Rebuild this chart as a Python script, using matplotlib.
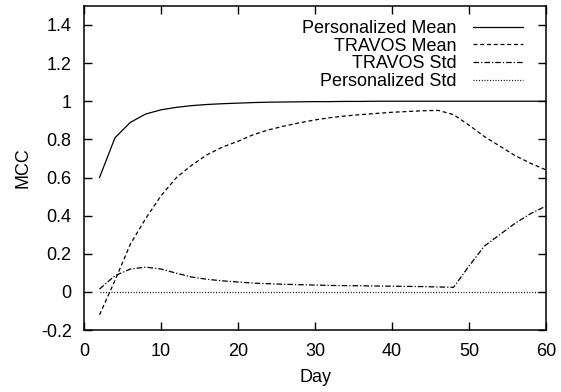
import numpy as np
import matplotlib
matplotlib.use("Agg")
import matplotlib.pyplot as plt
from matplotlib.ticker import FuncFormatter, MultipleLocator

plt.rcParams["font.family"] = ["Liberation Sans", "DejaVu Sans"]
plt.rcParams["font.size"] = 13

days = np.arange(2, 61, 2)

pers_mean = [0.60, 0.808, 0.889, 0.933, 0.955, 0.968, 0.977, 0.983, 0.987, 0.990,
             0.993, 0.995, 0.996, 0.997, 0.998, 0.998, 0.999, 0.999, 1.0, 1.0,
             1.0, 1.0, 1.0, 1.0, 1.0, 1.0, 1.0, 1.0, 1.0, 1.0]
travos_mean = [-0.12, 0.06, 0.25, 0.385, 0.505, 0.60, 0.665, 0.72, 0.76, 0.79,
               0.825, 0.85, 0.87, 0.887, 0.902, 0.914, 0.923, 0.93, 0.936, 0.942,
               0.946, 0.95, 0.952, 0.93, 0.875, 0.815, 0.765, 0.715, 0.675, 0.64]
travos_std = [0.015, 0.085, 0.12, 0.13, 0.12, 0.098, 0.078, 0.066, 0.058, 0.052,
              0.046, 0.043, 0.04, 0.038, 0.036, 0.034, 0.033, 0.032, 0.031, 0.03,
              0.029, 0.028, 0.026, 0.024, 0.135, 0.24, 0.30, 0.36, 0.41, 0.45]
pers_std = [0.0] * len(days)

fig = plt.figure(figsize=(5.61, 3.92), dpi=100)
ax = fig.add_axes([0.150, 0.158, 0.823, 0.827])

ax.plot(days, pers_mean, color="black", lw=0.9, label="Personalized Mean")
ax.plot(days, travos_mean, color="black", lw=0.9, dashes=(3.2, 2.2), label="TRAVOS Mean")
ax.plot(days, travos_std, color="black", lw=0.9, dashes=(4.5, 1.6, 1.0, 1.6), label="TRAVOS Std")
ax.plot(days, pers_std, color="black", lw=0.9, dashes=(0.8, 1.4), label="Personalized Std")

ax.set_xlim(0, 60)
ax.set_ylim(-0.2, 1.5)
ax.xaxis.set_major_locator(MultipleLocator(10))
ax.yaxis.set_major_formatter(FuncFormatter(lambda v, p: "%g" % round(v, 2)))
ax.set_yticks(np.arange(-0.2, 1.41, 0.2))
ax.tick_params(direction="in", length=6, width=1, top=True, right=True, pad=9)
for s in ax.spines.values():
    s.set_linewidth(1.1)

ax.set_xlabel("Day", labelpad=7)
ax.set_ylabel("MCC", labelpad=7)

# gnuplot-style key: labels right-aligned, samples to their right
ax.legend(loc="upper right", bbox_to_anchor=(0.950, 0.957), frameon=False,
          markerfirst=False, handlelength=2.78, handletextpad=0.9,
          labelspacing=0.04, borderaxespad=0, borderpad=0)

fig.savefig("out.png", dpi=100)
